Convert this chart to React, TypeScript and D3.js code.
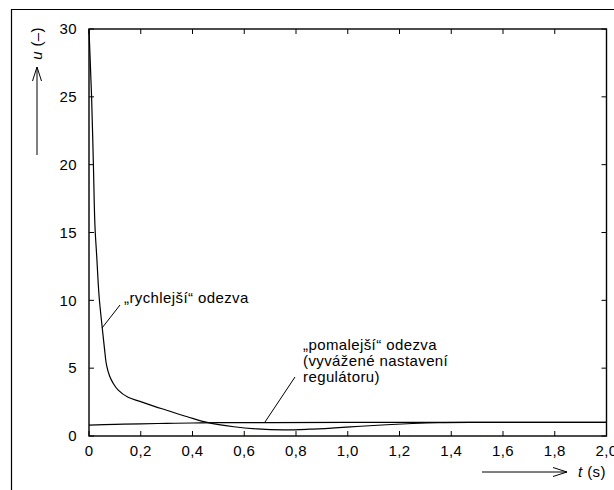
import React from 'react';
import * as d3 from 'd3';

const fastT = [0, 0.004, 0.01, 0.017, 0.023, 0.03, 0.039, 0.051, 0.06, 0.068, 0.08, 0.093, 0.112, 0.151, 0.197, 0.25, 0.3, 0.38, 0.46, 0.56, 0.65, 0.75, 0.85, 0.95, 1.05, 1.15, 1.25, 1.35, 1.5, 1.7, 2.0];
const fastU = [30, 28, 25, 20, 15.5, 13.2, 10.3, 8, 6.4, 5.2, 4.4, 3.9, 3.4, 2.85, 2.55, 2.2, 1.9, 1.42, 0.98, 0.68, 0.52, 0.45, 0.5, 0.6, 0.72, 0.83, 0.92, 0.98, 1.0, 1.0, 1.0];

const slowT = [0, 0.1, 0.2, 0.3, 0.4, 0.5, 0.7, 1.0, 1.4, 2.0];
const slowU = [0.8, 0.86, 0.9, 0.93, 0.96, 0.98, 0.99, 1.0, 1.0, 1.0];

const xTicks = [0, 0.2, 0.4, 0.6, 0.8, 1.0, 1.2, 1.4, 1.6, 1.8, 2.0];
const yTicks = [0, 5, 10, 15, 20, 25, 30];

const font = '"Liberation Sans", Arial, sans-serif';

const App = () => {
    const left = 89, right = 606.5, top = 29, bottom = 436;

    const x = d3.scaleLinear().domain([0, 2]).range([left, right]);
    const y = d3.scaleLinear().domain([0, 30]).range([bottom, top]);

    const line = d3.line<[number, number]>()
        .x(d => x(d[0]))
        .y(d => y(d[1]))
        .curve(d3.curveCatmullRom.alpha(0.5));

    const fast = line(fastT.map((t, i) => [t, fastU[i]] as [number, number]));
    const slow = line(slowT.map((t, i) => [t, slowU[i]] as [number, number]));
    const fmt = (v: number) => v.toFixed(1).replace('.', ',');

    return (
        <svg width={614} height={490} style={{position: 'absolute', left: 0, top: 0}}
             fontFamily={font} fontSize={15} letterSpacing={0.4}>
            <rect x={0} y={0} width={614} height={490} fill="#fff"/>
            {/* outer frame */}
            <path d="M11.5,490 V9.5 H614" fill="none" stroke="#000" strokeWidth={1.2}/>

            {/* curves */}
            <path d={fast || ''} fill="none" stroke="#000" strokeWidth={1.2}/>
            <path d={slow || ''} fill="none" stroke="#000" strokeWidth={1.2}/>

            {/* plot frame */}
            <rect x={left} y={top} width={right - left} height={bottom - top} fill="none" stroke="#000" strokeWidth={1.4}/>

            {xTicks.map(v => (
                <g key={'x' + v}>
                    <line x1={x(v)} x2={x(v)} y1={bottom} y2={bottom - 5} stroke="#000"/>
                    <line x1={x(v)} x2={x(v)} y1={top} y2={top + 5} stroke="#000"/>
                    <text x={x(v)} y={456} textAnchor="middle">{v === 0 ? '0' : fmt(v)}</text>
                </g>
            ))}
            {yTicks.map(v => (
                <g key={'y' + v}>
                    <line x1={left} x2={left + 5} y1={y(v)} y2={y(v)} stroke="#000"/>
                    <line x1={right} x2={right - 5} y1={y(v)} y2={y(v)} stroke="#000"/>
                    <text x={77} y={y(v)} dy="0.35em" textAnchor="end">{v}</text>
                </g>
            ))}

            {/* y axis label */}
            <text transform="translate(42,27) rotate(-90)" textAnchor="end">
                <tspan fontStyle="italic">u</tspan> (–)
            </text>
            <line x1={37} x2={37} y1={155} y2={67} stroke="#000"/>
            <path d="M32.5,81 L37,67 L41.5,81" fill="none" stroke="#000"/>

            {/* x axis label */}
            <line x1={482} x2={567} y1={472} y2={472} stroke="#000"/>
            <path d="M553,467.5 L567,472 L553,476.5" fill="none" stroke="#000"/>
            <text x={578} y={477}><tspan fontStyle="italic">t</tspan> (s)</text>

            {/* annotations */}
            <line x1={102} y1={328} x2={120} y2={305} stroke="#000"/>
            <text x={124} y={303}>„rychlejší“ odezva</text>

            <line x1={295} y1={377} x2={265} y2={422} stroke="#000"/>
            <text x={303} y={350}>„pomalejší“ odezva</text>
            <text x={303} y={366}>(vyvážené nastavení</text>
            <text x={303} y={382}>regulátoru)</text>
        </svg>
    );
};

export default App;
